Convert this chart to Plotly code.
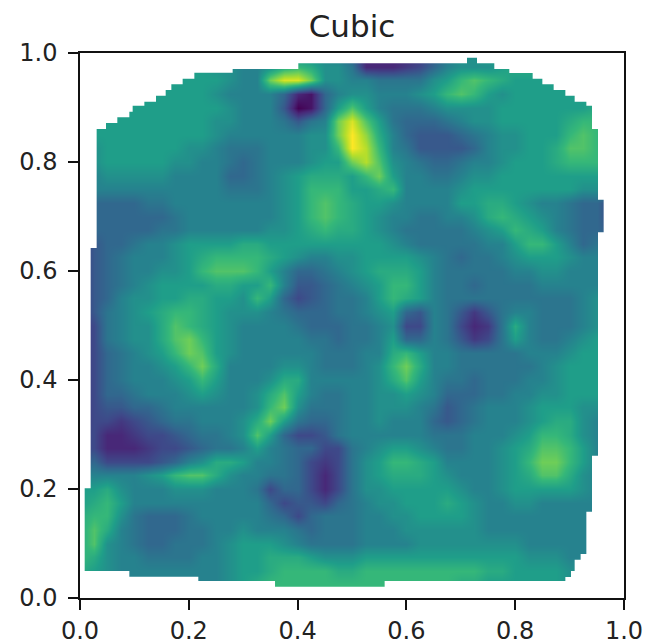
import plotly.graph_objects as go

# Field, in half-levels 0-18 (base-19 digits 0-9, a-i).
# Rows run from y=1.0 (top) to y=0.0, columns from x=0.0 to x=1.0
rows = [
    "99999 99999 88888 88887 52222 35799 aaaaa aaaaa a",
    "aaaaa aaaaa 99889 bcb99 72223 46899 9abba aaaaa a",
    "aaaaa aaaaa a988e hhe99 88777 79acd cbaaa aaaaa a",
    "aaaaa aaaaa 98888 62168 99888 9acdc a9aaa aaaaa a",
    "aaaaa aaaaa a9888 5016a da877 78999 9aaaa aaaba a",
    "aaaaa aaaaa 99888 7578e hda76 66789 9aaaa abccb b",
    "aaaaa aaaaa 98888 8899e ifb86 55567 899aa acdcc c",
    "99aaa aaa99 87778 8899c igc87 55556 899aa bddcc c",
    "99aaa aa998 87678 889aa egd98 76678 89aaa bcccc c",
    "88999 99888 86678 9abbb acea8 87789 9aaaa aaaaa a",
    "88888 88888 87778 9accc aabc8 8889a aaaaa aa999 9",
    "86666 77888 88888 9acdc baa98 888aa bba98 87664 4",
    "86666 66788 88888 9acdc ba988 77889 bcba9 87664 4",
    "76666 67788 88889 9abcb ba987 77778 9acba 87665 5",
    "35667 889aa aabba aaaaa aaa98 77777 88acc a8678 8",
    "35678 889ab ccccb a9889 9aaaa 98767 789aa a9888 8",
    "35678 899ac dddca 86678 9abbb a8777 77889 98888 8",
    "35678 9aaaa bbaac 85567 89acc a8776 77778 88888 8",
    "35689 9aabb aa9ca 64567 78acb a8777 77777 77899 9",
    "35789 abccb a9998 76667 789a6 58753 57887 77899 9",
    "34789 9bdcb a9888 87666 77894 48742 37b87 77899 9",
    "34789 9bdec a9888 88776 778a6 68753 47a87 789aa a",
    "34678 9aced a9888 88877 788bc a8877 77788 89aaa a",
    "34678 89ace b8888 99877 789ce b8877 77778 9aaaa a",
    "34678 889ac a8889 bb888 889bd a8776 77788 9aaaa a",
    "34667 8889a 9889b da877 8899a 98666 77889 9aaaa a",
    "34556 67888 8889c e9777 88999 87567 8889a aa999 9",
    "34434 56778 889be a7667 88988 86567 8889a bb988 8",
    "44223 44567 789da 64457 88888 87778 889ac cb988 8",
    "44222 34456 778a8 76644 789aa 98778 89abd dca88 8",
    "56444 45689 bba88 76434 79acc ba888 89ace eca88 8",
    "88888 9acdd b9887 76424 79abb ba988 89abd db988 8",
    "aab98 88999 88874 66424 799aa aaa98 89aaa aa988 8",
    "abca8 88888 88886 45546 7899a aaba9 88998 88888 8",
    "bcc97 66678 88887 64677 78899 aaaa9 88888 88888 8",
    "bdb87 66677 88988 87677 78889 99999 88888 88888 8",
    "bd987 66777 89aaa 98777 78888 99999 99988 88888 8",
    "cb988 77778 89aab bba99 9aaaa aaaaa aaa99 98888 8",
    "ba988 88888 89aab ccccb bcccc ccccc bbaaa a9999 9",
    "ba988 88888 89abc ccccc ccccc cccbb aaaaa a9999 9",
    "ba988 88888 89abc ccccc ccccc cccbb aaaaa a9999 9",
]
grid_x = [i / 40 for i in range(41)]
grid_y = [1 - i / 40 for i in range(41)]

# Edge of the region that holds data (the convex-hull staircase)
edge_x = [.0196,.0196,.0306,.0306,.0478,.0478,.0686,.0686,.0907,.0907,.0968,.0968,.1183,.1183,.1397,.1397,.1575,.1575,.1679,.1679,.1887,.1887,.2102,.2102,.2806,.2806,.4013,.4013,.7114,.7114,.7298,.7298,.7616,.7616,.7892,.7892,.8321,.8321,.8499,.8499,.8707,.8707,.8922,.8922,.9093,.9093,.9308,.9308,.9412,.9412,.9522,.9522,.9626,.9626,.9522,.9522,.9412,.9412,.9308,.9308,.9203,.9203,.9093,.9093,.9026,.9026,.8922,.8922,.5600,.5600,.3585,.3585,.2175,.2175,.0907,.0907,.0086,.0086,.0196]
edge_y = [.2012,.6422,.6422,.8606,.8606,.8716,.8716,.8820,.8820,.8924,.8924,.9034,.9034,.9107,.9107,.9217,.9217,.9321,.9321,.9425,.9425,.9529,.9529,.9639,.9639,.9706,.9706,.9810,.9810,.9914,.9914,.9810,.9810,.9706,.9706,.9633,.9633,.9529,.9529,.9425,.9425,.9321,.9321,.9217,.9217,.9107,.9107,.9034,.9034,.8606,.8606,.7309,.7309,.6710,.6710,.2611,.2611,.1584,.1584,.0807,.0807,.0703,.0703,.0495,.0495,.0385,.0385,.0312,.0312,.0208,.0208,.0312,.0312,.0391,.0391,.0495,.0495,.2012,.2012]

tick_vals = [0, 0.2, 0.4, 0.6, 0.8, 1.0]
tick_text = ["0.0", "0.2", "0.4", "0.6", "0.8", "1.0"]

z = [[int(c, 19) for c in r.replace(" ", "")] for r in rows]

fig = go.Figure()
fig.add_trace(go.Heatmap(x=grid_x, y=grid_y, z=z, zmin=0, zmax=18, colorscale="Viridis",
                         zsmooth="best", showscale=False, hoverinfo="skip"))
# White surround: outer frame wound against the data edge and joined to it by a seam, so the inside stays open
fig.add_trace(go.Scatter(x=[0, 0, 1, 1, 0, 0] + edge_x + [0],
                         y=[edge_y[0], 0, 0, 1, 1, edge_y[0]] + edge_y + [edge_y[0]],
                         mode="lines", fill="toself", fillcolor="white",
                         line=dict(width=0), hoverinfo="skip", showlegend=False))
axis = dict(range=[0, 1], tickvals=tick_vals, ticktext=tick_text, showgrid=False, zeroline=False,
            showline=True, linecolor="#111", linewidth=1.5, mirror=True, ticks="outside",
            ticklen=10, tickwidth=1.5, tickcolor="#111", tickfont=dict(size=24, color="#222"),
            automargin=False)
fig.update_layout(width=662, height=643, margin=dict(l=72, r=46, t=45, b=53),
                  paper_bgcolor="white", plot_bgcolor="white", showlegend=False,
                  font=dict(family="DejaVu Sans"),
                  title=dict(text="Cubic", x=344 / 662, xanchor="center", y=0.972, yanchor="middle",
                             font=dict(size=31, color="#222")),
                  xaxis=axis, yaxis=dict(axis, ticklabelstandoff=6))
fig.write_html("out.html")
